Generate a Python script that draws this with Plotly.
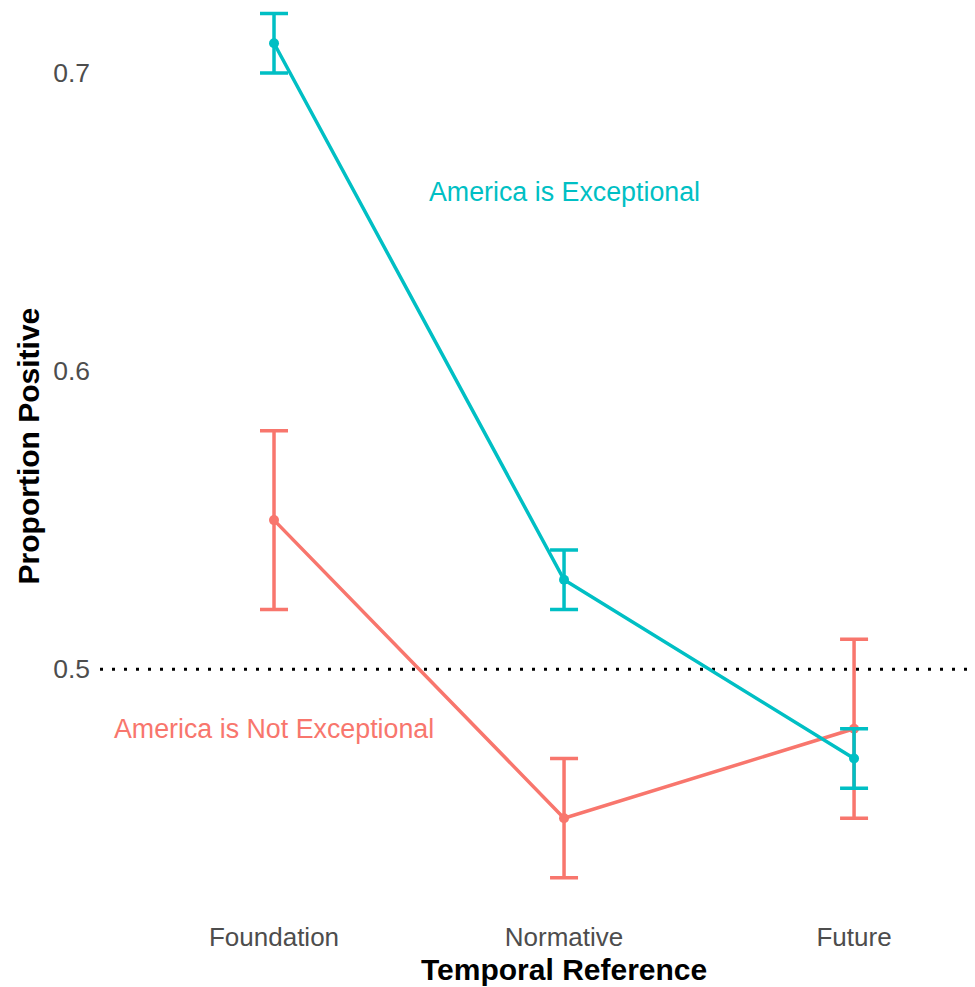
import plotly.graph_objects as go

categories = ["Foundation", "Normative", "Future"]

exc_mean = [0.71, 0.53, 0.47]
exc_low = [0.70, 0.52, 0.46]
exc_high = [0.72, 0.54, 0.48]

not_mean = [0.55, 0.45, 0.48]
not_low = [0.52, 0.43, 0.45]
not_high = [0.58, 0.47, 0.51]

y_ticks = [0.5, 0.6, 0.7]

TEAL = "#00BFC4"
RED = "#F8766D"
FONT = "Liberation Sans, Arial, sans-serif"


def err(mean, low, high):
    return dict(
        type="data",
        symmetric=False,
        array=[h - m for h, m in zip(high, mean)],
        arrayminus=[m - l for m, l in zip(mean, low)],
        thickness=3.5,
        width=14,
    )


fig = go.Figure()
fig.add_trace(go.Scatter(
    x=categories, y=not_mean, mode="lines+markers",
    line=dict(color=RED, width=3.5), marker=dict(color=RED, size=10),
    error_y=dict(err(not_mean, not_low, not_high), color=RED),
    name="America is Not Exceptional", showlegend=False,
))
fig.add_trace(go.Scatter(
    x=categories, y=exc_mean, mode="lines+markers",
    line=dict(color=TEAL, width=3.5), marker=dict(color=TEAL, size=10),
    error_y=dict(err(exc_mean, exc_low, exc_high), color=TEAL),
    name="America is Exceptional", showlegend=False,
))

fig.add_shape(type="line", xref="paper", x0=0, x1=1, yref="y", y0=0.5, y1=0.5,
              line=dict(color="black", width=3, dash="3px,9px"), layer="below")

fig.add_annotation(x=categories[1], y=0.66, text="America is Exceptional",
                   showarrow=False, font=dict(family=FONT, size=26.8, color=TEAL))
fig.add_annotation(x=categories[0], y=0.48, text="America is Not Exceptional",
                   showarrow=False, font=dict(family=FONT, size=26.8, color=RED))

# axis titles (placed as annotations to match the reference's centring)
fig.add_annotation(x=categories[1], xref="x", y=0, yref="paper", yshift=-48,
                   yanchor="middle", text="<b>Temporal Reference</b>", showarrow=False,
                   font=dict(family=FONT, size=30, color="black"))
fig.add_annotation(x=-0.082, xref="paper", xanchor="center", y=0.5748, yref="y",
                   textangle=-90, text="<b>Proportion Positive</b>", showarrow=False,
                   font=dict(family=FONT, size=30, color="black"))

fig.update_layout(
    width=975, height=987,
    margin=dict(l=100, r=0, t=0, b=66),
    plot_bgcolor="white", paper_bgcolor="white",
    font=dict(family=FONT),
    xaxis=dict(
        type="category", range=[-0.6, 2.417],
        showgrid=False, zeroline=False, showline=False, ticks="",
        tickfont=dict(size=26, color="#4D4D4D", family=FONT),
        ticklabelstandoff=-2,
    ),
    yaxis=dict(
        range=[0.4155, 0.7245], tickvals=y_ticks, ticktext=[str(v) for v in y_ticks],
        showgrid=False, zeroline=False, showline=False, ticks="",
        tickfont=dict(size=26.5, color="#4D4D4D", family=FONT),
        ticklabelstandoff=9,
    ),
)

fig.write_html("out.html")
